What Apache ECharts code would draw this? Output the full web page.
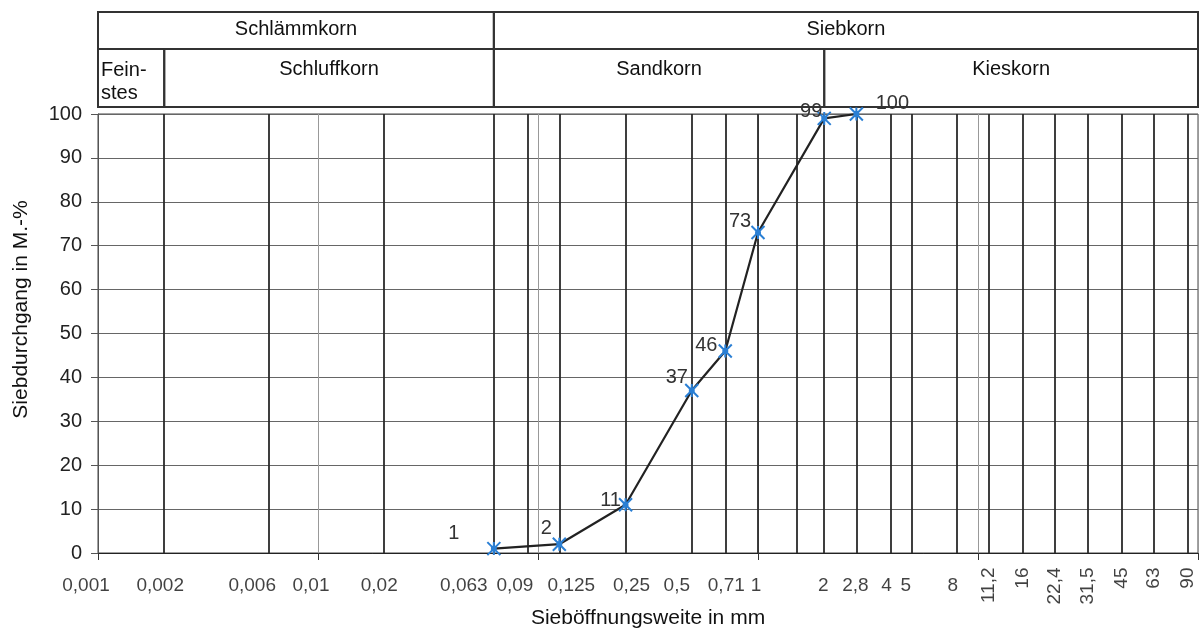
<!DOCTYPE html>
<html><head><meta charset="utf-8">
<script src="https://cdn.jsdelivr.net/npm/echarts@6/dist/echarts.min.js"></script>
<style>html,body{margin:0;padding:0;background:#fff}#c{width:1201px;height:634px}</style>
</head><body><div id="c"></div>
<script>
// ---- data ----
const sieveSizes = [0.063, 0.125, 0.25, 0.5, 0.71, 1, 2, 2.8];
const passing = [1, 2, 11, 37, 46, 73, 99, 100];
const tickLabelsFlat = [0.001, 0.002, 0.006, 0.01, 0.02, 0.063, 0.09, 0.125, 0.25, 0.5, 0.71, 1, 2, 2.8, 4, 5, 8];
const tickLabelsRotated = [11.2, 16, 22.4, 31.5, 45, 63, 90];
const sieveLines = [0.002, 0.006, 0.02, 0.063, 0.09, 0.125, 0.25, 0.5, 0.71, 1, 1.5, 2, 2.8, 4, 5, 8, 11.2, 16, 22.4, 31.5, 45, 63, 90];
const headerTopNames = ['Schlämmkorn', 'Siebkorn'];
const headerTopBounds = [[0.001, 0.063], [0.063, 100]];
const headerBottomNames = ['Fein-\nstes', 'Schluffkorn', 'Sandkorn', 'Kieskorn'];
const headerBottomBounds = [[0.001, 0.002], [0.002, 0.063], [0.063, 2], [2, 100]];

// ---- styling (not data) ----
const labelOffsets = [[-40, -15], [-13, -16], [-15, -4], [-15, -13], [-19, -6], [-18, -11], [-13, -7], [36, -11]];
const flatLabelShift = [-12, -4, -17, -7, -5, -30, -13, 12, 6, -15, 1, -2, -1, -1, -4, -6, -4];
const FONT = 'Liberation Sans, Arial, sans-serif';
const fmt = v => String(v).replace('.', ',');

function headerAreas(names, bounds) {
  return names.map((n, i) => {
    const first = { name: n, xAxis: bounds[i][0], yAxis: 0 };
    if (n.indexOf('\n') >= 0) {
      first.label = { position: 'insideTopLeft', distance: 4, align: 'left', lineHeight: 23, padding: [7, 0, 0, 0] };
    }
    return [first, { xAxis: bounds[i][1], yAxis: 1 }];
  });
}
const areaItemStyle = { color: 'rgba(0,0,0,0)', borderColor: '#333', borderWidth: 2 };
const areaLabel = { show: true, position: 'insideTop', color: '#111', fontSize: 20, fontFamily: FONT };

const chart = echarts.init(document.getElementById('c'));
chart.setOption({
  animation: false,
  backgroundColor: '#fff',
  textStyle: { fontFamily: FONT },
  grid: [
    { left: 98, width: 1100, top: 114, height: 442, show: true, borderColor: '#444', borderWidth: 1, backgroundColor: 'transparent' },
    { left: 98, width: 1100, top: 12, height: 37 },
    { left: 98, width: 1100, top: 49, height: 58 }
  ],
  xAxis: [
    {
      type: 'log', logBase: 10, min: 0.001, max: 100, gridIndex: 0,
      axisLine: { lineStyle: { color: '#222', width: 1 } },
      axisTick: { show: true, length: 7, lineStyle: { color: '#333' } },
      axisLabel: { show: false },
      splitLine: { show: true, lineStyle: { color: '#999', width: 1 } },
      name: 'Sieböffnungsweite in mm', nameLocation: 'middle', nameGap: 55,
      nameTextStyle: { fontSize: 21, color: '#111', fontFamily: FONT }
    },
    { type: 'log', logBase: 10, min: 0.001, max: 100, gridIndex: 1, show: false },
    { type: 'log', logBase: 10, min: 0.001, max: 100, gridIndex: 2, show: false }
  ],
  yAxis: [
    {
      type: 'value', min: 0, max: 100, interval: 10, gridIndex: 0,
      axisLine: { show: true, lineStyle: { color: '#555' } },
      axisTick: { show: true, length: 7, lineStyle: { color: '#555' } },
      axisLabel: { fontSize: 20, color: '#222', margin: 16, fontFamily: FONT },
      splitLine: { show: true, lineStyle: { color: '#666', width: 1 } },
      name: 'Siebdurchgang in M.-%', nameLocation: 'middle', nameGap: 66,
      nameTextStyle: { fontSize: 21, color: '#111', fontFamily: FONT, padding: [0, 0, 0, 48] }
    },
    { type: 'value', min: 0, max: 1, gridIndex: 1, show: false },
    { type: 'value', min: 0, max: 1, gridIndex: 2, show: false }
  ],
  series: [
    {
      type: 'scatter', xAxisIndex: 0, yAxisIndex: 0, z: 2, silent: true, clip: false,
      data: tickLabelsFlat.map((v, i) => ({ value: [v, 0], label: { offset: [flatLabelShift[i], 0] } })),
      symbolSize: 1, itemStyle: { color: 'rgba(0,0,0,0)' },
      label: { show: true, position: 'bottom', distance: 23, fontSize: 19, color: '#111', fontFamily: FONT,
        formatter: p => fmt(p.value[0]) },
      markLine: {
        silent: true, symbol: ['none', 'none'], animation: false, precision: 6,
        label: { show: false },
        lineStyle: { color: '#2a2a2a', width: 1.8, type: 'solid' },
        data: sieveLines.map(v => ({ xAxis: v }))
      }
    },
    {
      type: 'scatter', xAxisIndex: 0, yAxisIndex: 0, z: 2, silent: true, clip: false,
      data: tickLabelsRotated.map(v => [v, 0]),
      symbolSize: 1, itemStyle: { color: 'rgba(0,0,0,0)' },
      label: { show: true, position: 'bottom', distance: 14, rotate: 90, align: 'right', verticalAlign: 'middle',
        fontSize: 19, color: '#111', fontFamily: FONT, formatter: p => fmt(p.value[0]) }
    },
    {
      type: 'line', xAxisIndex: 0, yAxisIndex: 0, z: 10, clip: false,
      data: sieveSizes.map((x, i) => ({ value: [x, passing[i]], label: { offset: labelOffsets[i] } })),
      lineStyle: { color: '#222', width: 2.2 },
      symbol: 'path://M0,0L10,10M10,0L0,10M5,0L5,10M3.5,3.5L6.5,3.5L6.5,6.5L3.5,6.5Z',
      symbolSize: 13,
      itemStyle: { color: '#2a7fd4', borderColor: '#2a7fd4', borderWidth: 2 },
      label: { show: true, position: 'inside', fontSize: 20, color: '#333', fontFamily: FONT }
    },
    {
      type: 'scatter', xAxisIndex: 1, yAxisIndex: 1, data: [], silent: true,
      markArea: { silent: true, itemStyle: areaItemStyle,
        label: Object.assign({ distance: 8 }, areaLabel),
        data: headerAreas(headerTopNames, headerTopBounds) }
    },
    {
      type: 'scatter', xAxisIndex: 2, yAxisIndex: 2, data: [], silent: true,
      markArea: { silent: true, itemStyle: areaItemStyle,
        label: Object.assign({ distance: 11 }, areaLabel),
        data: headerAreas(headerBottomNames, headerBottomBounds) }
    }
  ]
});
</script>
</body></html>
